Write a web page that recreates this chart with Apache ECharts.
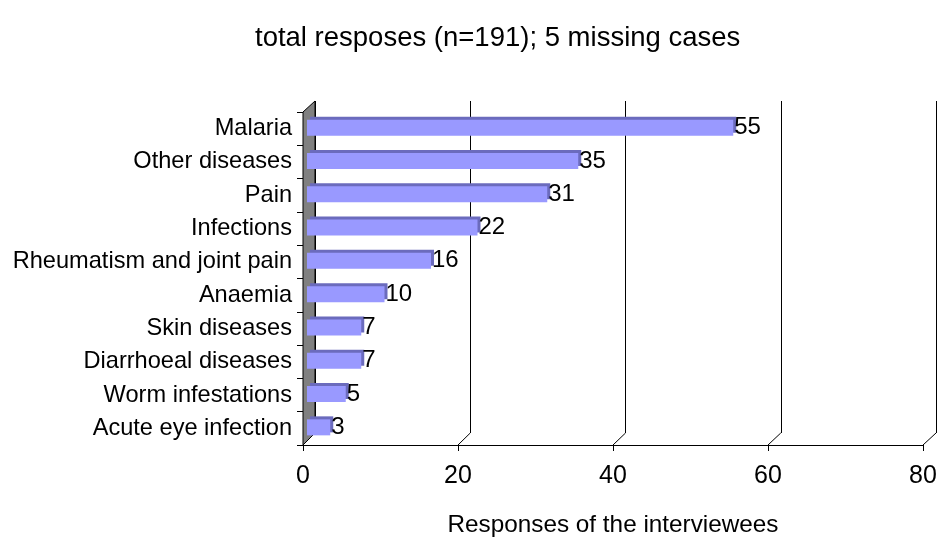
<!DOCTYPE html>
<html>
<head>
<meta charset="utf-8">
<script src="https://cdn.jsdelivr.net/npm/echarts@6/dist/echarts.min.js"></script>
<style>
  html, body { margin: 0; padding: 0; background: #fff; }
  #main { width: 938px; height: 537px; }
</style>
</head>
<body>
<div id="main"></div>
<script>
// data
var categories = ['Malaria', 'Other diseases', 'Pain', 'Infections', 'Rheumatism and joint pain',
  'Anaemia', 'Skin diseases', 'Diarrhoeal diseases', 'Worm infestations', 'Acute eye infection'];
var responses = [55, 35, 31, 22, 16, 10, 7, 7, 5, 3];
var xTicks = [0, 20, 40, 60, 80];

var font = 'Liberation Sans, Arial, sans-serif';
var chart = echarts.init(document.getElementById('main'));

// three grids fake the excel 3d look: front (axes), back (gridlines), middle (bars)
var front = { left: 303, right: 15, top: 112, bottom: 92, outerBoundsMode: 'none' };
var back = { left: 315, right: 2, top: 101, bottom: 104, outerBoundsMode: 'none' };
var mid = { left: 307, right: 11, top: 111, bottom: 93, outerBoundsMode: 'none' };

var option = {
  animation: false,
  textStyle: { fontFamily: font },
  title: {
    text: 'total resposes (n=191); 5 missing cases',
    left: 250,
    top: 19,
    textStyle: { fontFamily: font, fontSize: 27.5, fontWeight: 'normal', color: '#000' }
  },
  grid: [front, back, mid],
  xAxis: [
    {
      gridIndex: 0, type: 'value', min: 0, max: 80, interval: 20,
      name: 'Responses of the interviewees', nameLocation: 'middle', nameGap: 68,
      nameTextStyle: { fontFamily: font, fontSize: 24.3, color: '#000' },
      axisLine: { show: true, lineStyle: { color: '#000', width: 1 } },
      axisTick: { show: true, length: 6, lineStyle: { color: '#000' } },
      axisLabel: { fontFamily: font, fontSize: 25, color: '#000', margin: 19 },
      splitLine: { show: false }
    },
    {
      gridIndex: 1, type: 'value', min: 0, max: 80, interval: 20,
      axisLine: { show: false }, axisTick: { show: false }, axisLabel: { show: false },
      splitLine: { show: true, lineStyle: { color: '#000', width: 1 } }
    },
    {
      gridIndex: 2, type: 'value', min: 0, max: 80, interval: 20, show: false
    }
  ],
  yAxis: [
    {
      gridIndex: 0, type: 'category', data: categories, inverse: true,
      axisLine: { show: false },
      axisTick: { show: true, length: 6, lineStyle: { color: '#000' } },
      axisLabel: { fontFamily: font, fontSize: 23.6, color: '#000', margin: 11 }
    },
    {
      gridIndex: 1, type: 'category', data: categories, inverse: true, show: false
    },
    {
      gridIndex: 2, type: 'category', data: categories, inverse: true, show: false
    }
  ],
  series: [
    {
      type: 'bar',
      xAxisIndex: 2,
      yAxisIndex: 2,
      data: responses,
      barWidth: 16,
      itemStyle: {
        color: '#9999ff',
        shadowColor: '#6b6bbd',
        shadowBlur: 0,
        shadowOffsetX: 3,
        shadowOffsetY: -3
      },
      label: {
        show: true,
        position: 'right',
        distance: 1,
        fontFamily: font,
        fontSize: 24,
        color: '#000'
      }
    }
  ]
};
chart.setOption(option);

// wall on the left and floor edges, placed from the axes
function px(axisIdx, v) { return chart.convertToPixel({ xAxisIndex: axisIdx }, v); }
var frontBottom = 537 - front.bottom, backBottom = 537 - back.bottom;
var graphics = [];
var f0 = px(0, 0), b0 = px(1, 0);
graphics.push({
  type: 'polygon', z: 1,
  shape: { points: [[f0, front.top], [b0, back.top], [b0, backBottom], [f0, frontBottom]] },
  style: { fill: '#808080', stroke: '#000', lineWidth: 1 }
});
xTicks.forEach(function (t) {
  if (t === 0) return;
  graphics.push({
    type: 'line', z: 1,
    shape: { x1: px(0, t), y1: frontBottom, x2: px(1, t), y2: backBottom },
    style: { stroke: '#000', lineWidth: 1 }
  });
});
chart.setOption({ graphic: graphics });
</script>
</body>
</html>
